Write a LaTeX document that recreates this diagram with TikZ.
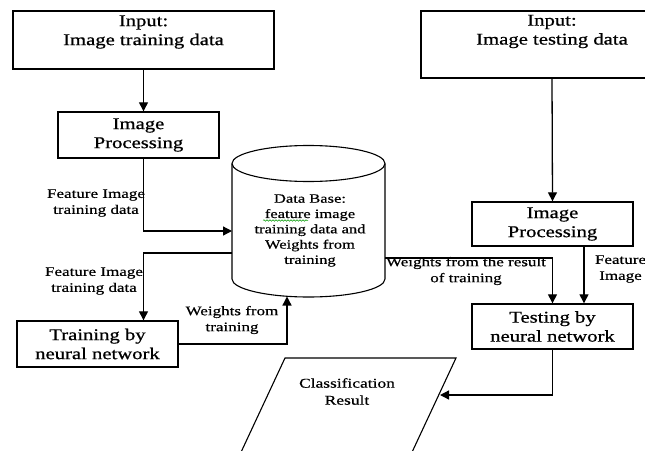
\documentclass[tikz,border=0pt]{standalone}
\usepackage{fontspec}
\setmainfont{Liberation Serif}[FakeStretch=1.3, FakeBold=0.5]
\newfontfamily\bxfam{Liberation Serif}[FakeStretch=1.26, FakeBold=0.8]
\usetikzlibrary{arrows.meta,calc,decorations.pathmorphing}
\newcommand\bxfont{\bxfam\fontsize{16.4}{19}\selectfont}
\newcommand\lbfont{\fontsize{13.1}{16}\selectfont}
\newcommand\cyfont{\fontsize{12.7}{15.3}\selectfont}
\begin{document}
\begin{tikzpicture}[x=1pt,y=-1pt,
  box/.style={draw, line width=1.4pt, minimum width=161, minimum height=46, inner sep=0, align=center, font=\bxfont},
  txt/.style={align=center, font=\bxfont, inner sep=0},
  lbl/.style={align=center, font=\lbfont, inner sep=0},
  arr/.style={line width=1.3pt, -{Triangle[length=9pt,width=9pt]}},
  cyl/.style={line width=1.1pt}]
\useasboundingbox (0,0) rectangle (645,450);
\clip (0,0) rectangle (645,450);

% left column
\node[box, minimum width=261, minimum height=58] (inp1) at (143.5,40) {};
\node[txt] (inp1t) at (143.5,32) {Input:\\Image training data};
\node[box] (ip1) at (138.5,135) {Image\\Processing};
\node[box] (tr) at (97.5,344) {Training by\\neural network};

% right column
\node[box, minimum width=262, minimum height=67] (inp2) at (552,44.5) {};
\node[txt] (inp2t) at (552,31.5) {Input:\\Image testing data};
\node[box, minimum height=44] (ip2) at (552.5,224) {Image\\Processing};
\node[box, minimum height=45] (te) at (552.5,326.5) {Testing by\\neural network};

% database cylinder
\node[minimum width=153, minimum height=152, inner sep=0] (db) at (308.5,221) {};
\draw[cyl] (308.5,163.5) ellipse [x radius=76.5, y radius=18];
\draw[cyl] (232,163.5) -- (232,279)
  .. controls (232,288.9) and (266.3,297) .. (308.5,297)
  .. controls (350.7,297) and (385,288.9) .. (385,279) -- (385,163.5);
\node[align=center, font=\cyfont, inner sep=0] (dbt) at (310,230.5)
  {Data Base:\\feature image\\training data and\\Weights from\\training};
\draw[green!60!black, line width=0.5pt, decorate, decoration={snake, amplitude=0.8pt, segment length=3pt}] (263,220.5) -- (308,220.5);

% parallelogram output
\draw[line width=1.1pt] (285,358) -- (456,358) -- (403.7,470) -- (232.7,470) -- cycle;
\node[lbl, font=\fontsize{13.4}{17}\selectfont] (cls) at (347,391.5) {Classification\\Result};

% connector anchor points
\coordinate (dbw1) at (232,231);
\coordinate (dbw2) at (232,253);
\coordinate (dbb) at (287,296.5);
\coordinate (dbe) at (385,258);
\coordinate (pg) at (440,395);

% connectors
\draw[arr] (inp1.south) -- (inp1.south |- ip1.north);
\draw[arr] (inp1.south |- ip1.south) |- (dbw1);
\draw[arr] (dbw2) -| (inp1.south |- tr.north);
\draw[arr] (tr.east) -| (dbb);
\draw[arr] (dbe) -| (te.north);
\draw[arr] (inp2.south) -- (ip2.north);
\draw[arr] ($(ip2.south)+(31.5,0)$) -- ($(te.north)+(31.5,0)$);
\draw[arr] (te.south) |- (pg);

% labels
\node[lbl] (l1) at (96,203) {Feature Image\\training data};
\node[lbl] (l2) at (94,281) {Feature Image\\training data};
\node[lbl] (l3) at (232,320) {Weights from\\training};
\node[lbl] (l4) at (466,271) {Weights from the result\\of training};
\node[lbl] (l5) at (620.5,269) {Feature\\Image};
\end{tikzpicture}
\end{document}
